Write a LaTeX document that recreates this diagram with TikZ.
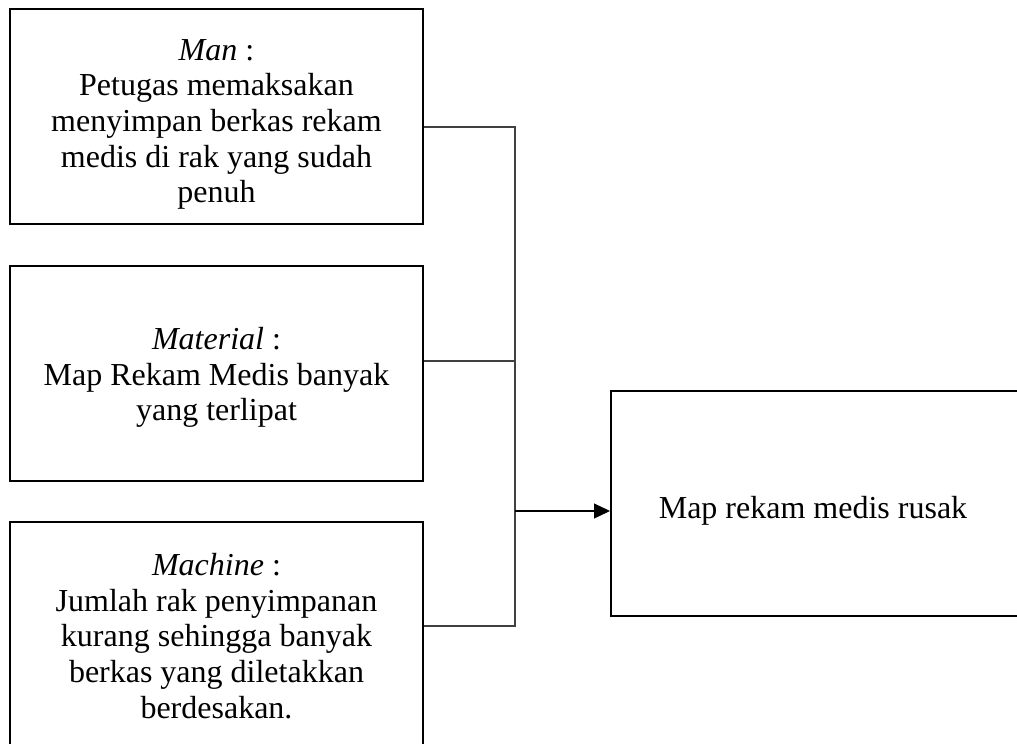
\documentclass[tikz,border=0pt]{standalone}
\usepackage{fontspec}
\setmainfont{Liberation Serif}
\usetikzlibrary{arrows.meta}
\begin{document}
\begin{tikzpicture}[x=1pt,y=-1pt,
  box/.style={draw=black,line width=2pt,inner sep=0pt,minimum width=413pt},
  txt/.style={inner sep=0pt,align=center,font=\fontsize{32}{35.7}\selectfont},
  conn/.style={draw=black!75,line width=1.2pt},
  arr/.style={draw=black,line width=1.2pt,-{Triangle[length=16pt,width=15pt]}}]
\clip (0,0) rectangle (1017,744);
\node[box,minimum height=215pt] (man) at (216.5,116.5) {};
\node[box,minimum height=215pt] (mat) at (216.5,373.5) {};
\node[box,minimum height=228pt] (mac) at (216.5,636) {};
\node[box,minimum width=408pt,minimum height=225pt] (eff) at (815,503.5) {};
\node[txt] (mantxt) at ([yshift=-8pt]man.center)
  {\textit{Man} :\\Petugas memaksakan\\menyimpan berkas rekam\\medis di rak yang sudah\\penuh};
\node[txt] (mattxt) at ([yshift=-4pt]mat.center)
  {\textit{Material} :\\Map Rekam Medis banyak\\yang terlipat};
\node[txt] (mactxt) at (mac.center)
  {\textit{Machine} :\\Jumlah rak penyimpanan\\kurang sehingga banyak\\berkas yang diletakkan\\berdesakan.};
\node[txt] (efftxt) at ([xshift=-2pt,yshift=-7pt]eff.center) {Map rekam medis rusak};
\coordinate (t1) at (515,127);
\coordinate (t2) at (515,361);
\coordinate (t3) at (515,626);
\coordinate (ta) at (515,511);
\draw[conn] (man.east |- t1) -- (t1) -- (t3) -- (mac.east |- t3);
\draw[conn] (mat.east |- t2) -- (t2);
\draw[arr] (ta) -- (eff.west |- ta);
\end{tikzpicture}
\end{document}
